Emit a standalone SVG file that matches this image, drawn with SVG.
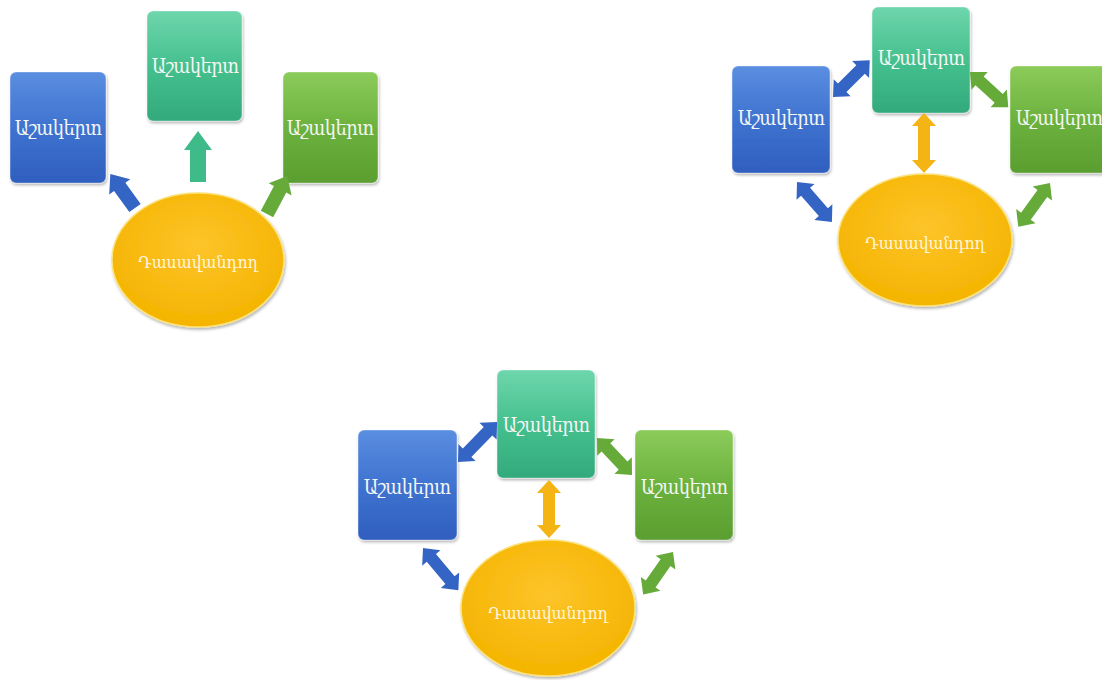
<svg xmlns="http://www.w3.org/2000/svg" width="1102" height="680" viewBox="0 0 1102 680">
<defs>
<linearGradient id="gBlue" x1="0" y1="0" x2="0" y2="1"><stop offset="0" stop-color="#5a8ee0"/><stop offset="0.5" stop-color="#3f73d0"/><stop offset="1" stop-color="#2f5fbf"/></linearGradient>
<linearGradient id="gTeal" x1="0" y1="0" x2="0" y2="1"><stop offset="0" stop-color="#6fd6ac"/><stop offset="0.5" stop-color="#45c08e"/><stop offset="1" stop-color="#33aa7c"/></linearGradient>
<linearGradient id="gGreen" x1="0" y1="0" x2="0" y2="1"><stop offset="0" stop-color="#8ccb5a"/><stop offset="0.5" stop-color="#6cb23e"/><stop offset="1" stop-color="#5a9e30"/></linearGradient>
<radialGradient id="gYel" cx="0.5" cy="0.4" r="0.6"><stop offset="0" stop-color="#fdc42a"/><stop offset="1" stop-color="#f4b400"/></radialGradient>
<filter id="sh" x="-10%" y="-10%" width="130%" height="130%"><feGaussianBlur in="SourceAlpha" stdDeviation="1.5"/><feOffset dx="1" dy="1.5"/><feComponentTransfer><feFuncA type="linear" slope="0.3"/></feComponentTransfer><feMerge><feMergeNode/><feMergeNode in="SourceGraphic"/></feMerge></filter>
</defs>
<style>
.box{stroke:#ffffff;stroke-opacity:0.35;stroke-width:1.2;filter:url(#sh)}
.blue{fill:url(#gBlue)}
.teal{fill:url(#gTeal)}
.green{fill:url(#gGreen)}
.ell{fill:url(#gYel);stroke:#fbe27a;stroke-width:1.5;filter:url(#sh)}
.t{font-family:"DejaVu Serif Condensed","DejaVu Serif","DejaVu Sans",serif;fill:#f4f6f4;text-anchor:middle;font-size:20px;letter-spacing:-0.6px}
.te{font-family:"DejaVu Serif Condensed","DejaVu Serif","DejaVu Sans",serif;fill:#fff6da;text-anchor:middle;font-size:17.5px}
.aB{fill:#3565c4}
.aT{fill:#3fbb8a}
.aG{fill:#66ab3a}
.aY{fill:#f3b414}
</style>

<!-- Diagram 1 -->
<g id="d1-blue"><rect class="box blue" x="10" y="72" width="96" height="111" rx="6"/><text class="t" x="58" y="135">Աշակերտ</text></g>
<g id="d1-teal"><rect class="box teal" x="147" y="11" width="95" height="110" rx="6"/><text class="t" x="195" y="73">Աշակերտ</text></g>
<g id="d1-green"><rect class="box green" x="283" y="72" width="95" height="111" rx="6"/><text class="t" x="330" y="135">Աշակերտ</text></g>
<g id="d1-teacher"><ellipse class="ell" cx="198" cy="260" rx="86" ry="67"/><text class="te" x="198" y="268">Դասավանդող</text></g>

<!-- Diagram 2 -->
<g id="d2-blue"><rect class="box blue" x="732" y="66" width="98" height="107" rx="6"/><text class="t" x="781" y="125">Աշակերտ</text></g>
<g id="d2-teal"><rect class="box teal" x="872" y="7" width="98" height="106" rx="6"/><text class="t" x="921" y="65">Աշակերտ</text></g>
<g id="d2-green"><rect class="box green" x="1010" y="66" width="98" height="107" rx="6"/><text class="t" x="1059" y="125">Աշակերտ</text></g>
<g id="d2-teacher"><ellipse class="ell" cx="925" cy="240" rx="87" ry="66"/><text class="te" x="925" y="249">Դասավանդող</text></g>

<!-- Diagram 3 -->
<g id="d3-blue"><rect class="box blue" x="358" y="430" width="99" height="110" rx="6"/><text class="t" x="407" y="494">Աշակերտ</text></g>
<g id="d3-teal"><rect class="box teal" x="497" y="370" width="98" height="108" rx="6"/><text class="t" x="546" y="432">Աշակերտ</text></g>
<g id="d3-green"><rect class="box green" x="635" y="430" width="98" height="110" rx="6"/><text class="t" x="684" y="494">Աշակերտ</text></g>
<g id="d3-teacher"><ellipse class="ell" cx="548" cy="608" rx="87" ry="68"/><text class="te" x="548" y="619">Դասավանդող</text></g>

<g id="connectors">
<polygon class="aB" transform="translate(135,208) rotate(-126)" points="0,-7 26,-7 26,-13 42,0 26,13 26,7 0,7"/>
<polygon class="aT" transform="translate(198,182) rotate(-90)" points="0,-8 32,-8 32,-14 51,0 32,14 32,8 0,8"/>
<polygon class="aG" transform="translate(267,214) rotate(-62)" points="0,-7 28,-7 28,-13 43,0 28,13 28,7 0,7"/>

<polygon class="aB" transform="translate(833,97) rotate(-45)" points="0,0 13,-12 13,-6 39,-6 39,-12 52,0 39,12 39,6 13,6 13,12"/>
<polygon class="aG" transform="translate(970,72) rotate(42.6)" points="0,0 13,-12 13,-6 39,-6 39,-12 52,0 39,12 39,6 13,6 13,12"/>
<polygon class="aY" transform="translate(924,113) rotate(90)" points="0,0 13,-12 13,-6 47,-6 47,-12 60,0 47,12 47,6 13,6 13,12"/>
<polygon class="aB" transform="translate(797,182) rotate(48.8)" points="0,0 13,-12 13,-6 40,-6 40,-12 53,0 40,12 40,6 13,6 13,12"/>
<polygon class="aG" transform="translate(1050,183) rotate(126)" points="0,0 13,-12 13,-6 41,-6 41,-12 54,0 41,12 41,6 13,6 13,12"/>

<polygon class="aB" transform="translate(458,462) rotate(-45.7)" points="0,0 13,-12 13,-6 43,-6 43,-12 56,0 43,12 43,6 13,6 13,12"/>
<polygon class="aG" transform="translate(597,438) rotate(46.6)" points="0,0 13,-12 13,-6 38,-6 38,-12 51,0 38,12 38,6 13,6 13,12"/>
<polygon class="aY" transform="translate(549,480) rotate(90)" points="0,0 13,-12 13,-6 45,-6 45,-12 58,0 45,12 45,6 13,6 13,12"/>
<polygon class="aB" transform="translate(423,548) rotate(50)" points="0,0 13,-12 13,-6 42,-6 42,-12 55,0 42,12 42,6 13,6 13,12"/>
<polygon class="aG" transform="translate(673,552) rotate(125)" points="0,0 13,-12 13,-6 39,-6 39,-12 52,0 39,12 39,6 13,6 13,12"/>
</g>
</svg>
